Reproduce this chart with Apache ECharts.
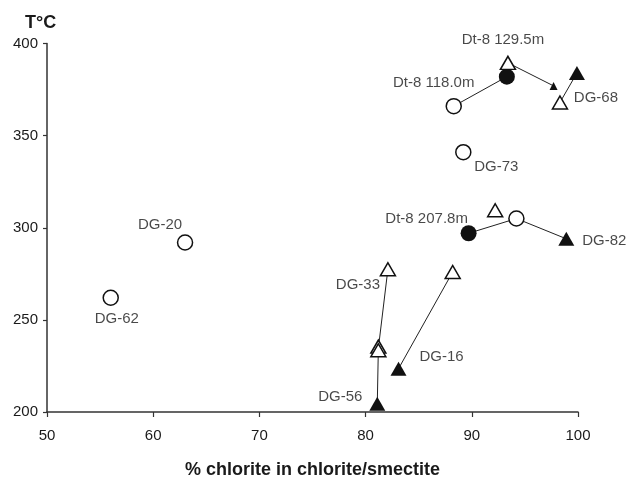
<!DOCTYPE html>
<html><head><meta charset="utf-8">
<script src="https://cdn.jsdelivr.net/npm/echarts@6/dist/echarts.min.js"></script>
<style>html,body{margin:0;background:#fff}#c{width:627px;height:477px}</style>
</head><body><div id="c"></div>
<script>
// Axis ranges and ticks
const xTicks = [50, 60, 70, 80, 90, 100];
const yTicks = [200, 250, 300, 350, 400];

// Samples: [% chlorite in chlorite/smectite, temperature °C]
const openCircles = [[56, 262], [63, 292], [88.3, 366], [89.2, 341], [94.2, 305]];
const filledCircles = [[93.3, 382], [89.7, 297]];
const openTriangles = [[93.4, 389.5], [98.3, 368], [92.2, 309.5], [82.1, 277.5], [81.2, 235.5], [81.2, 233.5], [88.2, 276]];
const filledTriangles = [[99.9, 384], [98.9, 294], [81.1, 204.5], [83.1, 223.5]];
const arrowHeads = [[97.7, 377]];

// Paths linking related samples
const paths = [
  [[88.3, 366], [93.3, 382]],
  [[93.4, 389.5], [97.7, 377]],
  [[98.3, 368], [99.9, 384]],
  [[89.7, 297], [94.2, 305], [98.9, 294]],
  [[81.1, 204.5], [81.2, 234.5], [82.1, 277.5]],
  [[83.1, 223.5], [88.2, 276]]
];

// Sample names and the point each one annotates
const sampleNames = ['Dt-8 129.5m', 'Dt-8 118.0m', 'DG-68', 'DG-73', 'Dt-8 207.8m', 'DG-82', 'DG-33', 'DG-16', 'DG-56', 'DG-20', 'DG-62'];
const sampleAnchors = [[93.4, 389.5], [88.3, 366], [98.3, 368], [89.2, 341], [89.7, 297], [98.9, 294], [82.1, 277.5], [83.1, 223.5], [81.1, 204.5], [63, 292], [56, 262]];

// Label placement (pixel offset from the annotated point)
const labelOffsets = {
  'Dt-8 129.5m': [-5, -23], 'Dt-8 118.0m': [-20, -23], 'DG-68': [36, -5], 'DG-73': [33, 15],
  'Dt-8 207.8m': [-42, -14], 'DG-82': [38, 2], 'DG-33': [-30, 16], 'DG-16': [43, -12],
  'DG-56': [-37, -7], 'DG-20': [-25, -18], 'DG-62': [6, 21]
};

const INK = '#111';
const TEXT = '#1a1a1a';
const FONT = 'Liberation Sans, Arial, sans-serif';

const markerSeries = (data, symbol, size, filled, z) => ({
  type: 'scatter', data, symbol, symbolSize: size, z,
  itemStyle: { color: filled ? INK : '#fff', borderColor: INK, borderWidth: filled ? 0 : 1.5, opacity: 1 },
  emphasis: { disabled: true }
});

const series = [];
paths.forEach(p => series.push({
  type: 'line', data: p, symbol: 'none', z: 1,
  lineStyle: { color: '#222', width: 1 }, emphasis: { disabled: true }
}));
series.push(markerSeries(openCircles, 'circle', 15, false, 3));
series.push(markerSeries(filledCircles, 'circle', 16, true, 3));
series.push(markerSeries(openTriangles, 'triangle', [15, 13], false, 3));
series.push(markerSeries(filledTriangles, 'triangle', [16, 14], true, 3));
series.push(markerSeries(arrowHeads, 'triangle', [8, 8], true, 3));
series.push({
  type: 'scatter', symbolSize: 0, z: 5, silent: true,
  data: sampleNames.map((n, i) => ({
    value: sampleAnchors[i], name: n,
    label: { show: true, position: 'inside', offset: labelOffsets[n], formatter: n,
      color: TEXT, fontSize: 15, fontFamily: FONT }
  }))
});

const chart = echarts.init(document.getElementById('c'), null, { renderer: 'canvas' });
chart.setOption({
  animation: false,
  backgroundColor: '#fff',
  title: { text: 'T°C', left: 20, top: 9,
    textStyle: { fontSize: 18, fontWeight: 'bold', color: TEXT, fontFamily: FONT } },
  grid: { left: 47, right: 49, top: 43.5, bottom: 65, outerBoundsMode: 'none', containLabel: false },
  xAxis: {
    type: 'value', min: xTicks[0], max: xTicks[xTicks.length - 1], interval: xTicks[1] - xTicks[0],
    name: '% chlorite in chlorite/smectite', nameLocation: 'middle', nameGap: 49,
    nameTextStyle: { fontSize: 18, fontWeight: 'bold', color: TEXT, fontFamily: FONT },
    axisLine: { lineStyle: { color: '#333', width: 1.5 } },
    axisTick: { length: 5, lineStyle: { color: '#333', width: 1.2 } },
    axisLabel: { margin: 16, fontSize: 15, color: TEXT, fontFamily: FONT },
    splitLine: { show: false }
  },
  yAxis: {
    type: 'value', min: yTicks[0], max: yTicks[yTicks.length - 1], interval: yTicks[1] - yTicks[0],
    axisLine: { show: true, lineStyle: { color: '#333', width: 1.5 } },
    axisTick: { show: true, length: 4, lineStyle: { color: '#333', width: 1.2 } },
    axisLabel: { margin: 9, fontSize: 15, color: TEXT, fontFamily: FONT },
    splitLine: { show: false }
  },
  series
});
</script>
</body></html>
